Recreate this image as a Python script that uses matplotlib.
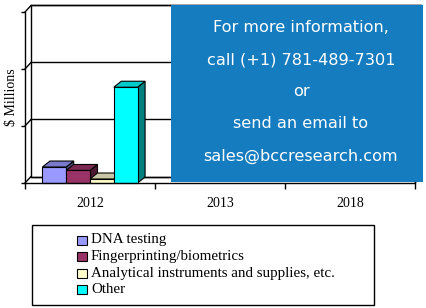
import matplotlib
matplotlib.use("Agg")
import matplotlib.pyplot as plt
from matplotlib.patches import Polygon, Rectangle

# ---- data ----
years = ["2012", "2013", "2018"]
series = ["DNA testing", "Fingerprinting/biometrics",
          "Analytical instruments and supplies, etc.", "Other"]
values_2012 = [140, 110, 35, 840]
front_colors = ["#9999FF", "#993366", "#FFFFCC", "#00FFFF"]
top_colors = ["#7A7ACC", "#7A2952", "#C8C8A8", "#00CCCC"]
side_colors = ["#4D4D80", "#4D1A33", "#99997A", "#008080"]
y_ticks = [0, 500, 1000, 1500]
info_lines = ["For more information,", "call (+1) 781-489-7301", "or",
              "send an email to", "sales@bccresearch.com"]

W, H = 426, 308
fig = plt.figure(figsize=(W / 100, H / 100), dpi=100)
fig.patch.set_facecolor("white")

# axes = front plane of the 3D box (pixels 25..415 x, 12..183 y)
ax = fig.add_axes([25 / W, (H - 183) / H, 390 / W, 171 / H])
ax.set_xlim(0, 3)
ax.set_ylim(0, 1500)
ax.set_facecolor("none")
for s in ["top", "right"]:
    ax.spines[s].set_visible(False)
for s in ["left", "bottom"]:
    ax.spines[s].set_linewidth(1.0)
    ax.spines[s].set_zorder(5)

ax.set_yticks(y_ticks)
ax.set_yticklabels([""] * len(y_ticks))
ax.tick_params(axis="y", direction="out", length=3, width=1.0)
ax.set_xticks([0, 1, 2, 3])
ax.set_xticklabels([""] * 4)
ax.tick_params(axis="x", which="major", direction="out", length=4, width=1.0)
ax.set_xticks([0.5, 1.5, 2.5], minor=True)
ax.set_xticklabels(years, minor=True, fontfamily="Liberation Serif", fontsize=10)
ax.tick_params(axis="x", which="minor", length=0, pad=10)

# depth offsets in data units (pixel depth converted via axis scale)
px_x = 3 / 390.0
px_y = 1500 / 171.0
WDX, WDY = 6 * px_x, 6.5 * px_y      # walls
BDX, BDY = 7.5 * px_x, 6 * px_y      # bars

lw = 1.0
kw = dict(clip_on=False, lw=lw, color="black")
# back wall
ax.add_patch(Polygon([(WDX, WDY), (3 + WDX, WDY), (3 + WDX, 1500 + WDY), (WDX, 1500 + WDY)],
                     closed=True, facecolor="white", edgecolor="black", lw=lw,
                     clip_on=False, zorder=0))
for v in y_ticks:
    ax.plot([WDX, 3 + WDX], [v + WDY, v + WDY], zorder=1, **kw)
    ax.plot([0, WDX], [v, v + WDY], zorder=1, **kw)
ax.plot([3, 3 + WDX], [0, WDY], zorder=1, **kw)

# bars for 2012
bw = 0.183
start = 0.5 - 2 * bw
for i, v in enumerate(values_2012):
    x0 = start + i * bw
    x1 = x0 + bw
    ax.add_patch(Polygon([(x1, 0), (x1 + BDX, BDY), (x1 + BDX, v + BDY), (x1, v)],
                         closed=True, facecolor=side_colors[i], edgecolor="black",
                         lw=0.8, clip_on=False, zorder=2 + i))
    ax.add_patch(Polygon([(x0, v), (x1, v), (x1 + BDX, v + BDY), (x0 + BDX, v + BDY)],
                         closed=True, facecolor=top_colors[i], edgecolor="black",
                         lw=0.8, clip_on=False, zorder=2 + i))
    ax.add_patch(Rectangle((x0, 0), bw, v, facecolor=front_colors[i],
                           edgecolor="black", lw=0.8, clip_on=False, zorder=2 + i))

# y label
fig.text(12 / W, 1 - 97.5 / H, "$ Millions", rotation=90, ha="center", va="center",
         fontfamily="Liberation Serif", fontsize=10)

# blue info box
fig.patches.append(Rectangle((171 / W, (H - 182) / H), 252 / W, 177 / H,
                             transform=fig.transFigure, facecolor="#167CC0",
                             edgecolor="none", zorder=10))
for k, line in enumerate(info_lines):
    fig.text(301 / W, 1 - (28 + 32 * k) / H, line, ha="center", va="center",
             color="white", fontfamily="DejaVu Sans", fontsize=11.6, zorder=11)

# legend
fig.patches.append(Rectangle((32 / W, (H - 305) / H), 342 / W, 80 / H,
                             transform=fig.transFigure, facecolor="white",
                             edgecolor="black", lw=1.0, zorder=10))
for i, name in enumerate(series):
    yc = 240 + 16.5 * i
    fig.patches.append(Rectangle((77 / W, (H - yc - 4.5) / H), 10 / W, 9 / H,
                                 transform=fig.transFigure, facecolor=front_colors[i],
                                 edgecolor="black", lw=0.8, zorder=11))
    fig.text(91 / W, 1 - yc / H, name, ha="left", va="center",
             fontfamily="Liberation Serif", fontsize=10.8, zorder=12)

fig.savefig("out.png", dpi=100)
